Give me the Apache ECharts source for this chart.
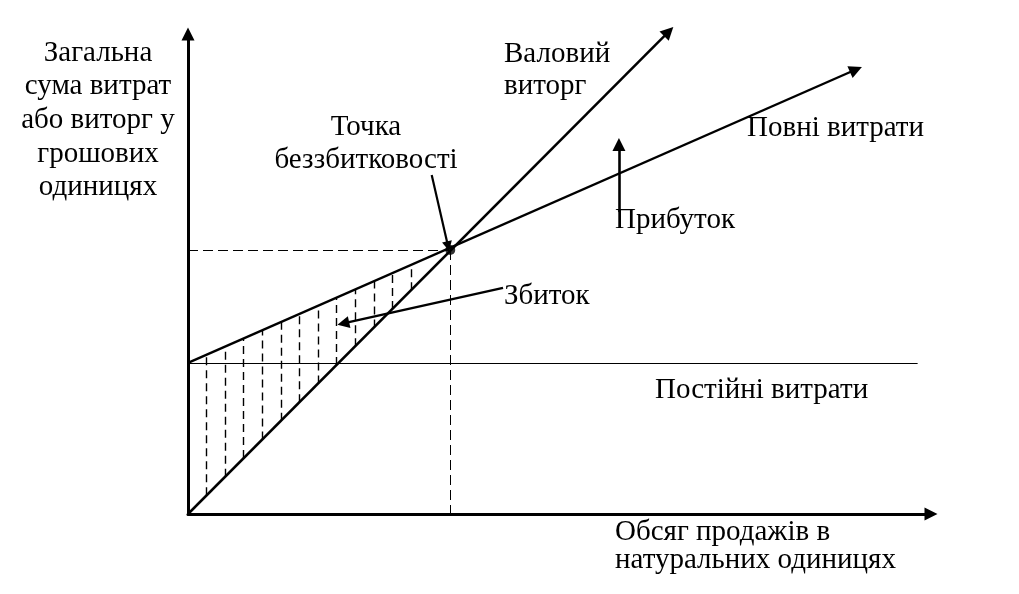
<!DOCTYPE html>
<html>
<head>
<meta charset="utf-8">
<script src="https://cdn.jsdelivr.net/npm/echarts@6/dist/echarts.min.js"></script>
<style>
html,body{margin:0;padding:0;background:#fff;}
#chart{width:1019px;height:594px;}
</style>
</head>
<body>
<div id="chart"></div>
<script>
// ---- data (value units: x = sales volume, y = money) ----
var revenueLine   = [[0, 0], [64.7, 100.5]];      // Валовий виторг
var totalCostLine = [[0, 31.5], [89.9, 92.6]];    // Повні витрати
var fixedCostLine = [[0, 31.5], [98.2, 31.5]];    // Постійні витрати
var breakEven     = [35.3, 55.0];                 // Точка беззбитковості
var lossHatchX    = [2.5, 5, 7.5, 10, 12.5, 15, 17.5, 20, 22.5, 25, 27.5, 30];
var pointerBreakEven = [[32.8, 70.6], [35.0, 55.8]];
var pointerLoss      = [[42.4, 47.1], [20.9, 39.7]];
var arrowProfit      = [[58.0, 62.9], [58.0, 77.0]];

var yTitle = ['Загальна', 'сума витрат', 'або виторг у', 'грошових', 'одиницях'];
var xTitle = ['Обсяг продажів в', 'натуральних одиницях'];
var revenueLabel = ['Валовий', 'виторг'];
var breakEvenLabel = ['Точка', 'беззбитковості'];
var totalCostLabel = 'Повні витрати';
var fixedCostLabel = 'Постійні витрати';
var profitLabel = 'Прибуток';
var lossLabel = 'Збиток';

function onLine(line, x) {
  var a = line[0], b = line[1];
  return a[1] + (b[1] - a[1]) * (x - a[0]) / (b[0] - a[0]);
}
var hatchData = lossHatchX.map(function (x) {
  return { coords: [[x, onLine(revenueLine, x)], [x, onLine(totalCostLine, x)]] };
});

var FONT = '"Liberation Serif","Times New Roman",serif';
var FS = 29;
function txt(text, x, y, align) {
  return { type: 'text', x: x, y: y, silent: true,
    style: { text: text, fill: '#000', font: FS + 'px ' + FONT, textAlign: align || 'left', textVerticalAlign: 'middle' } };
}
var graphics = [];
var yTitleY = [53, 86, 120, 154, 187];
yTitle.forEach(function (t, i) { graphics.push(txt(t, 98, yTitleY[i], 'center')); });
graphics.push(txt(revenueLabel[0], 504, 54));
graphics.push(txt(revenueLabel[1], 504, 86));
graphics.push(txt(breakEvenLabel[0], 366, 127, 'center'));
graphics.push(txt(breakEvenLabel[1], 366, 160, 'center'));
graphics.push(txt(totalCostLabel, 747, 128));
graphics.push(txt(profitLabel, 615, 220));
graphics.push(txt(lossLabel, 504, 296));
graphics.push(txt(fixedCostLabel, 655, 390));
graphics.push(txt(xTitle[0], 615, 532));
graphics.push(txt(xTitle[1], 615, 560));

var axisCommon = {
  type: 'value', min: 0, max: 100,
  axisLine: { show: true, symbol: ['none', 'triangle'], symbolSize: [13, 13],
    lineStyle: { color: '#000', width: 3 } },
  axisTick: { show: false }, axisLabel: { show: false }, splitLine: { show: false }
};

function linesSeries(data, width, symbolSize, dash) {
  return {
    type: 'lines', coordinateSystem: 'cartesian2d', clip: false, silent: true,
    symbol: symbolSize ? ['none', 'triangle'] : ['none', 'none'],
    symbolSize: symbolSize || 0,
    lineStyle: { color: '#000', width: width, opacity: 1, curveness: 0, type: dash || 'solid' },
    data: data, z: 3
  };
}

var chart = echarts.init(document.getElementById('chart'), null, { renderer: 'canvas' });
chart.setOption({
  animation: false,
  backgroundColor: '#fff',
  grid: { left: 188, right: 88, top: 34, bottom: 80, containLabel: false },
  xAxis: axisCommon,
  yAxis: axisCommon,
  series: [
    linesSeries(hatchData, 1.4, 0, [8, 5]),
    linesSeries([{ coords: [[0, breakEven[1]], breakEven] }, { coords: [breakEven, [breakEven[0], 0]] }], 1, 0, [10, 5]),
    linesSeries([{ coords: fixedCostLine }], 1.2, 0),
    linesSeries([{ coords: revenueLine }], 2.5, 13),
    linesSeries([{ coords: totalCostLine }], 2.4, 13),
    linesSeries([{ coords: pointerBreakEven }], 2.2, 10),
    linesSeries([{ coords: pointerLoss }], 2.4, 12),
    linesSeries([{ coords: arrowProfit }], 2.6, 13),
    { type: 'scatter', silent: true, symbol: 'circle', symbolSize: 10,
      itemStyle: { color: '#000' }, data: [breakEven], z: 5 }
  ],
  graphic: graphics
});
</script>
</body>
</html>
